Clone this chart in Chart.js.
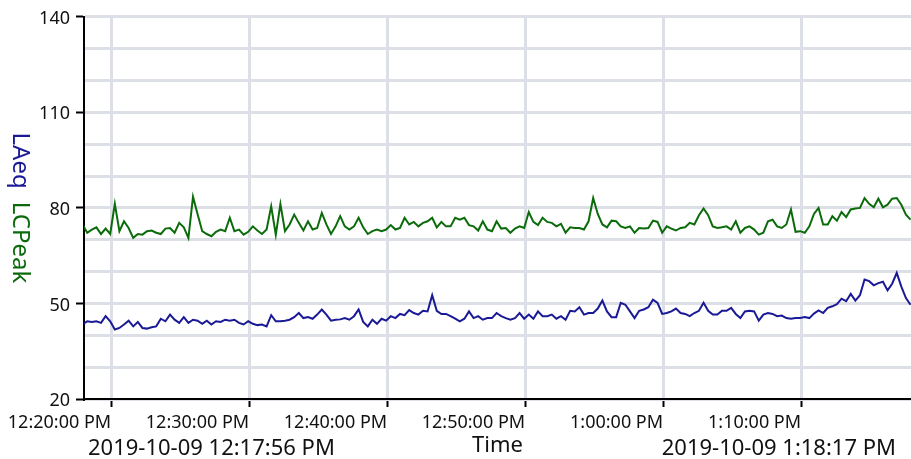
<!DOCTYPE html>
<html>
<head>
<meta charset="utf-8">
<script src="https://cdn.jsdelivr.net/npm/chart.js@4"></script>
<style>
  html, body { margin: 0; padding: 0; background: #fff; }
</style>
</head>
<body>
<canvas id="myChart" width="911" height="459"></canvas>
<script>
// sample times: seconds since midnight, one reading every 20 s
const startSeconds = 44276; // 12:17:56 PM
const stepSeconds = 20;

const laeq = [
  43.4, 44.4, 44.2, 44.4, 43.9, 46.0, 44.4, 41.8, 42.3, 43.4, 44.6, 42.8, 44.2, 42.3, 42.1, 42.5, 42.8, 45.2, 44.4, 46.5,
  44.9, 43.9, 45.7, 43.9, 44.9, 44.6, 43.6, 44.6, 43.4, 44.4, 44.2, 44.9, 44.6, 44.9, 43.9, 43.4, 44.4,
  43.6, 43.2, 43.4, 42.8, 46.3, 44.4, 44.4, 44.6, 44.9, 45.7, 47.0, 45.4, 45.7, 45.2, 46.5, 48.1, 46.5, 44.6, 44.9, 45.0,
  45.4, 44.9, 46.0, 48.1, 44.2, 42.8, 44.9, 43.6, 45.2, 44.6, 46.0, 45.4, 46.7, 46.3, 47.9, 47.0,
  46.5, 47.7, 47.5, 52.6, 47.7, 46.7, 46.7, 46.0, 45.2, 44.4, 45.2, 47.5, 45.4, 46.0, 44.9, 45.4, 45.4, 47.0, 46.0, 45.4,
  44.9, 45.4, 47.0, 45.2, 46.5, 45.2, 47.5, 46.0, 46.0, 46.5, 45.2, 46.0, 44.9, 47.7, 47.5, 48.8,
  46.5, 47.0, 47.0, 48.4, 50.9, 47.5, 45.7, 45.7, 50.2, 49.6, 47.5, 45.4, 47.7, 48.1, 48.8, 51.2, 50.2, 46.7, 47.0, 47.5,
  48.4, 47.0, 46.7, 46.0, 47.0, 47.7, 50.2, 47.7, 46.5, 46.5, 47.7, 47.7, 48.6, 46.7, 45.4, 47.5,
  47.7, 47.5, 44.6, 46.5, 47.0, 46.7, 46.0, 46.2, 45.4, 45.2, 45.4, 45.4, 45.7, 45.4, 46.8, 47.8, 47.0, 48.6, 49.1, 49.8,
  51.5, 50.7, 53.0, 50.9, 52.6, 57.5, 57.0, 55.7, 56.4, 56.8, 54.1, 56.2, 59.6, 55.3, 51.7, 49.6
];

const lcpeak = [
  74.8, 72.2, 73.2, 73.9, 71.8, 73.5, 71.8, 81.3, 72.7, 75.8, 73.7, 70.6, 71.8, 71.6, 72.7, 72.9, 72.2, 71.8, 73.5, 73.7,
  72.2, 75.3, 73.9, 70.6, 83.5, 78.0, 72.7, 71.8, 71.1, 72.5, 73.2, 72.7, 76.9, 72.7, 73.2, 71.6, 72.5,
  74.2, 72.9, 71.8, 73.2, 80.5, 71.6, 81.2, 72.7, 74.8, 77.9, 75.3, 72.9, 75.8, 73.2, 73.7, 78.4, 74.8, 71.8, 74.2, 77.4,
  74.2, 73.2, 74.2, 76.9, 73.9, 71.8, 72.7, 73.2, 72.7, 73.2, 74.6, 73.2, 73.7, 76.9, 74.8, 75.6,
  74.2, 75.3, 75.8, 76.9, 73.9, 75.6, 74.2, 74.2, 76.9, 76.3, 76.9, 74.6, 74.2, 72.9, 75.8, 73.2, 72.7, 75.8, 73.5, 73.7,
  72.2, 73.5, 74.2, 73.7, 78.7, 75.6, 74.6, 76.9, 75.6, 75.3, 74.2, 75.0, 72.2, 73.9, 73.7, 73.7,
  73.2, 75.8, 83.1, 78.1, 74.8, 73.9, 76.0, 75.8, 74.2, 73.7, 74.2, 72.2, 73.7, 73.5, 73.7, 76.0, 75.6, 72.2, 74.2, 73.5,
  72.9, 73.7, 73.9, 75.3, 74.8, 77.7, 79.8, 77.7, 74.2, 73.7, 73.9, 74.2, 73.2, 75.8, 72.2, 73.7,
  74.2, 73.2, 71.6, 72.2, 75.8, 76.3, 74.2, 73.7, 74.8, 79.5, 72.5, 72.7, 72.2, 74.2, 78.1, 80.0, 74.8, 74.8, 77.4, 76.0,
  78.7, 77.1, 79.5, 79.8, 80.0, 83.1, 81.3, 80.2, 82.9, 80.2, 81.0, 82.9, 83.1, 81.0, 77.9, 76.3
];

const seriesNames = ["LAeq", "LCPeak"];
const xTickSeconds = [44400, 45000, 45600, 46200, 46800, 47400]; // 12:20 ... 1:10
const yTickLabels = [20, 50, 80, 110, 140];
const xTitle = "Time";
const rangeStart = "2019-10-09 12:17:56 PM";
const rangeEnd = "2019-10-09 1:18:17 PM";

const blue = "#1a1a96";
const green = "#0b6b0b";
const gridColor = "#dcdfe6";
const textColor = "#111";
const fontFamily = "'Noto Sans', sans-serif";

Chart.defaults.font.family = fontFamily;

function clock(sec) {
  let h = Math.floor(sec / 3600);
  const m = Math.floor((sec % 3600) / 60);
  const s = Math.round(sec % 60);
  const ampm = h >= 12 ? "PM" : "AM";
  h = h % 12;
  if (h === 0) h = 12;
  return h + ":" + String(m).padStart(2, "0") + ":" + String(s).padStart(2, "0") + " " + ampm;
}

function toPoints(values) {
  return values.map((v, i) => ({ x: startSeconds + i * stepSeconds, y: v }));
}

// start / end stamps under the axis and the two-colour y title
const extraText = {
  id: "extraText",
  afterDraw(chart) {
    const { ctx, chartArea } = chart;
    ctx.save();
    ctx.font = "22px " + fontFamily;
    ctx.fillStyle = textColor;
    ctx.textBaseline = "alphabetic";
    ctx.textAlign = "left";
    ctx.fillText(rangeStart, chartArea.left + 4, chart.height - 4);
    ctx.textAlign = "right";
    ctx.fillText(rangeEnd, chartArea.right - 15, chart.height - 4);

    ctx.font = "24px " + fontFamily;
    const gap = 13;
    const w1 = ctx.measureText(seriesNames[0]).width;
    const w2 = ctx.measureText(seriesNames[1]).width;
    const cy = (chartArea.top + chartArea.bottom) / 2;
    ctx.translate(20, cy - (w1 + gap + w2) / 2);
    ctx.rotate(Math.PI / 2);
    ctx.textAlign = "left";
    ctx.textBaseline = "middle";
    ctx.fillStyle = blue;
    ctx.fillText(seriesNames[0], 0, 0);
    ctx.fillStyle = green;
    ctx.fillText(seriesNames[1], w1 + gap, 0);
    ctx.restore();
  }
};

new Chart("myChart", {
  type: "line",
  data: {
    datasets: [
      {
        label: seriesNames[0],
        data: toPoints(laeq),
        borderColor: blue,
        borderWidth: 2,
        pointRadius: 0,
        fill: false,
        tension: 0,
      },
      {
        label: seriesNames[1],
        data: toPoints(lcpeak),
        borderColor: green,
        borderWidth: 2,
        pointRadius: 0,
        fill: false,
        tension: 0,
      },
    ],
  },
  options: {
    responsive: false,
    animation: false,
    layout: { padding: { top: 16, right: 0, bottom: 0, left: 0 } },
    plugins: { legend: { display: false }, tooltip: { enabled: false } },
    scales: {
      x: {
        type: "linear",
        min: 44282,
        max: 47878,
        afterBuildTicks: (axis) => {
          axis.ticks = xTickSeconds.map((v) => ({ value: v }));
        },
        afterFit: (axis) => {
          axis.height = 60;
        },
        grid: { color: gridColor, lineWidth: 3, tickColor: "#000", tickWidth: 2, tickLength: 8 },
        border: { color: "#000", width: 2 },
        ticks: {
          align: "end",
          padding: 5,
          maxRotation: 0,
          autoSkip: false,
          color: textColor,
          font: { size: 18 },
          callback: (v) => clock(v),
        },
        title: {
          display: true,
          text: xTitle,
          color: textColor,
          font: { size: 22 },
          padding: { top: 0, bottom: 0 },
        },
      },
      y: {
        min: 20,
        max: 140,
        afterFit: (axis) => {
          axis.width = 84;
        },
        grid: {
          color: gridColor,
          lineWidth: 3,
          tickLength: 8,
          tickWidth: 2,
          tickColor: (c) => (yTickLabels.includes(c.tick.value) ? "#000" : "rgba(0,0,0,0)"),
        },
        border: { color: "#000", width: 2 },
        ticks: {
          stepSize: 10,
          autoSkip: false,
          padding: 6,
          labelOffset: 2,
          color: textColor,
          font: { size: 18 },
          callback: (v) => (yTickLabels.includes(v) ? String(v) : ""),
        },
      },
    },
  },
  plugins: [extraText],
});
</script>
</body>
</html>
